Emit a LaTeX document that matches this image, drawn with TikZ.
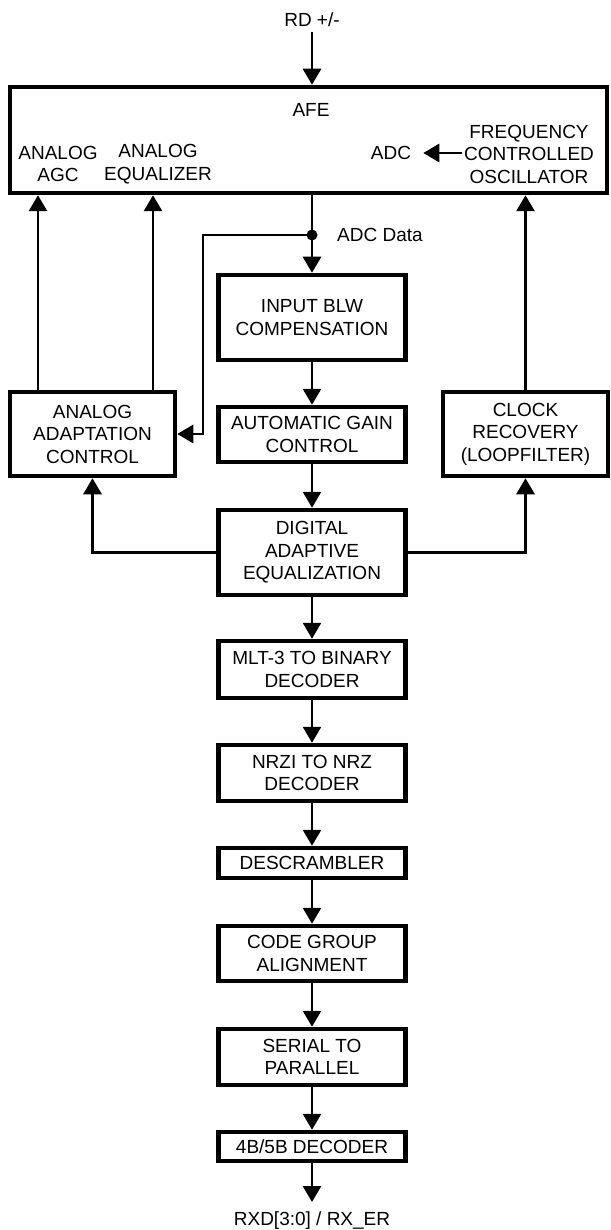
\documentclass[tikz,border=0pt]{standalone}
\usepackage{fontspec}
\setmainfont{Liberation Sans}
\usetikzlibrary{arrows.meta}
\begin{document}
\begin{tikzpicture}[x=1pt,y=-1pt,
  font=\fontsize{19}{22.5}\selectfont,
  blk/.style={draw, line width=4.5pt, align=center, inner sep=0pt},
  cblk/.style={blk, minimum width=187pt},
  lbl/.style={align=center, inner sep=0pt},
  arr/.style={line width=2.9pt, -{Triangle[length=16pt,width=18pt]}},
]
\useasboundingbox (0,0) rectangle (610,1230);
\fill[white] (0,0) rectangle (610,1230);

% AFE block
\node[blk, minimum width=597pt, minimum height=106pt] (afe) at (308.5,140) {};
\node[lbl] (afet) at (311,110) {AFE};
\node[lbl] (aagc) at (58,164) {ANALOG\\AGC};
\node[lbl] (aeq) at (158,164) {ANALOG\\EQUALIZER};
\node[lbl, inner xsep=12pt] (adc) at (391,153) {ADC};
\node[lbl, inner xsep=2pt] (fco) at (529,154) {FREQUENCY\\CONTROLLED\\OSCILLATOR};
\draw[arr] (fco.west |- adc.east) -- (adc.east);

% input label
\node[lbl, anchor=base] (rd) at (312,27) {RD +/-};
\draw[arr] ([yshift=-5pt]rd.base) -- (rd.base |- afe.north);

% center column
\node[cblk, minimum height=85pt] (inp) at (312,317.5) {INPUT BLW\\COMPENSATION};
\node[cblk, minimum height=55pt] (agc) at (312,434.5) {AUTOMATIC GAIN\\CONTROL};
\node[cblk, minimum height=85pt] (dae) at (312,552.5) {DIGITAL\\ADAPTIVE\\EQUALIZATION};
\node[cblk, minimum height=57pt] (mlt) at (312,669.5) {MLT-3 TO BINARY\\DECODER};
\node[cblk, minimum height=56pt] (nrz) at (312,773) {NRZI TO NRZ\\DECODER};
\node[cblk, minimum height=30pt] (des) at (312,863) {DESCRAMBLER};
\node[cblk, minimum height=55pt] (cga) at (312,953.5) {CODE GROUP\\ALIGNMENT};
\node[cblk, minimum height=56pt] (s2p) at (312,1057) {SERIAL TO\\PARALLEL};
\node[cblk, minimum height=29pt] (dec) at (312,1146.5) {4B/5B DECODER};
\node[lbl, anchor=base] (rx) at (312,1225) {RXD[3:0] / RX\_ER};

% side blocks
\node[blk, minimum width=165pt, minimum height=84pt] (ana) at (92.5,434) {ANALOG\\ADAPTATION\\CONTROL};
\node[blk, minimum width=165pt, minimum height=84pt] (clk) at (525.5,434) {CLOCK\\RECOVERY\\(LOOPFILTER)};

% ADC data tap
\coordinate (dot) at (312,235);
\coordinate (br) at (203,235);
\coordinate (a1) at (38,300);
\coordinate (a2) at (153,300);
\node[lbl, anchor=west] (adcd) at (337,235) {ADC Data};

\draw[arr] (afe.south -| inp.north) -- (inp.north);
\fill (dot) circle (5.5pt);
\draw[arr] (dot) -- (br) |- (ana.east);
\draw[arr] (ana.north -| a1) -- (afe.south -| a1);
\draw[arr] (ana.north -| a2) -- (afe.south -| a2);
\draw[arr] (clk.north) -- (clk.north |- afe.south);

\draw[arr] (inp.south) -- (agc.north);
\draw[arr] (agc.south) -- (dae.north);
\draw[arr] (dae.south) -- (mlt.north);
\draw[arr] (mlt.south) -- (nrz.north);
\draw[arr] (nrz.south) -- (des.north);
\draw[arr] (des.south) -- (cga.north);
\draw[arr] (cga.south) -- (s2p.north);
\draw[arr] (s2p.south) -- (dec.north);
\draw[arr] (dec.south) -- ([yshift=23pt]rx.base);

\draw[arr] (dae.west) -| (ana.south);
\draw[arr] (dae.east) -| (clk.south);
\end{tikzpicture}
\end{document}
